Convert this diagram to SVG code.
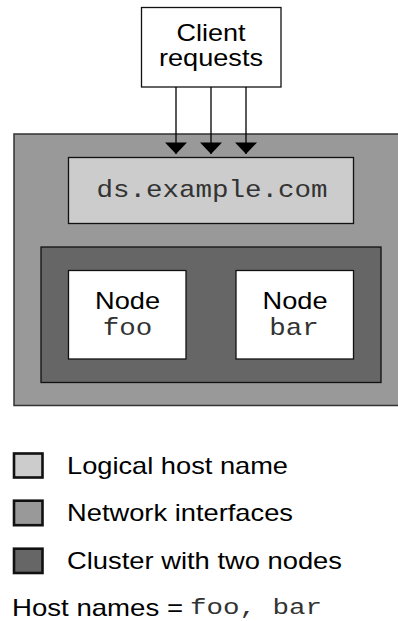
<svg xmlns="http://www.w3.org/2000/svg" width="398" height="621" viewBox="0 0 398 621">
<style>
.s{font-family:"Liberation Sans",Arial,sans-serif;font-size:24px;fill:#000}
.m{font-family:"Liberation Mono","Courier New",monospace;font-size:24px;fill:#333}
.c{text-anchor:middle}
.b{stroke:#111;stroke-width:1.3}
.l{stroke:#111;stroke-width:2.6}
.w{stroke:#000;stroke-width:1.3;fill:none}
</style>
<defs>
<marker id="arrow" markerUnits="userSpaceOnUse" markerWidth="24" markerHeight="14" refX="12" refY="12.500" viewBox="0 0 24 14"><path d="M1 1H23L12 12.500Z" fill="#000"/></marker>
</defs>
<g id="interfaces"><rect x="14" y="134" width="390" height="271.500" fill="#999" stroke="#333" stroke-width="1.500"/></g>
<g id="client"><rect x="141.500" y="7.500" width="139.500" height="79.500" fill="#fff" class="b"/><text x="211" y="41" class="s c" textLength="69" lengthAdjust="spacingAndGlyphs">Client</text><text x="211" y="66" class="s c" textLength="104" lengthAdjust="spacingAndGlyphs">requests</text></g>
<g id="logical"><rect x="68.500" y="157.500" width="285" height="66" fill="#ccc" class="b"/><text x="212" y="197" class="m c" textLength="231" lengthAdjust="spacingAndGlyphs">ds.example.com</text></g>
<g id="cluster"><rect x="41" y="247" width="340" height="135.500" fill="#666" class="b"/></g>
<g id="node-foo"><rect x="68.500" y="270.500" width="117.500" height="88.500" fill="#fff" class="b"/><text x="127.500" y="309" class="s c" textLength="65" lengthAdjust="spacingAndGlyphs">Node</text><text x="127.500" y="335" class="m c" textLength="49.500" lengthAdjust="spacingAndGlyphs">foo</text></g>
<g id="node-bar"><rect x="236" y="270.500" width="117.500" height="88.500" fill="#fff" class="b"/><text x="295" y="309" class="s c" textLength="65" lengthAdjust="spacingAndGlyphs">Node</text><text x="294" y="335" class="m c" textLength="49.500" lengthAdjust="spacingAndGlyphs">bar</text></g>
<g id="connectors">
<path d="M176 87V154" class="w" marker-end="url(#arrow)"/>
<path d="M211 87V154" class="w" marker-end="url(#arrow)"/>
<path d="M246 87V154" class="w" marker-end="url(#arrow)"/>
</g>
<g id="legend-logical"><rect x="14" y="453.500" width="28.500" height="24" fill="#ccc" class="l"/><text x="67" y="474" class="s" textLength="221" lengthAdjust="spacingAndGlyphs">Logical host name</text></g>
<g id="legend-network"><rect x="14" y="500.700" width="28.500" height="24.500" fill="#999" class="l"/><text x="67" y="521" class="s" textLength="226" lengthAdjust="spacingAndGlyphs">Network interfaces</text></g>
<g id="legend-cluster"><rect x="14" y="548.700" width="28.500" height="24.300" fill="#666" class="l"/><text x="67" y="569" class="s" textLength="275" lengthAdjust="spacingAndGlyphs">Cluster with two nodes</text></g>
<g id="legend-hosts"><text x="12" y="615.500" class="s" textLength="171" lengthAdjust="spacingAndGlyphs">Host names =</text><text x="190" y="614.300" class="m" style="font-size:22px" textLength="132" lengthAdjust="spacingAndGlyphs">foo, bar</text></g>
</svg>
